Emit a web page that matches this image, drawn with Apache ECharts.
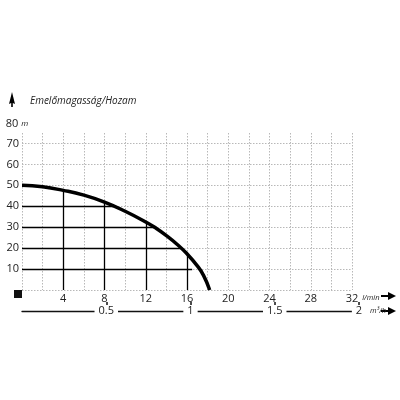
<!DOCTYPE html>
<html><head><meta charset="utf-8">
<script src="https://cdn.jsdelivr.net/npm/echarts@6/dist/echarts.min.js"></script>
<style>html,body{margin:0;padding:0;background:#fff}#c{width:400px;height:400px}</style>
</head><body><div id="c"></div>
<script>
// Data
const flowLmin = [0, 2, 4, 6, 8, 10, 12, 13, 14, 15, 16, 17, 17.6, 18.2];
const headM    = [50, 49.3, 47.6, 45.3, 42, 37.6, 32.5, 29.5, 26, 22, 17.3, 11.5, 7, 0];
const dropX    = [4, 8, 12, 16];          // vertical reference lines (l/min)
const dropXTop = [47.6, 42, 32.5, 17.3];  // where they meet the curve (m)
const dropY    = [40, 30, 20, 10];        // horizontal reference lines (m)
const dropYEnd = [8.9, 12.8, 15.4, 16.5]; // where they end (l/min)
const m3hTicks = [0.5, 1, 1.5, 2];
const titleText = 'Emelőmagasság/Hozam';

const curve = flowLmin.map((x, i) => [x, headM[i]]);
const ml = [];
dropX.forEach((x, i) => ml.push([{coord: [x, 0]}, {coord: [x, dropXTop[i]]}]));
dropY.forEach((y, i) => ml.push([{coord: [0, y]}, {coord: [dropYEnd[i], y]}]));

const font = 'Open Sans';
const chart = echarts.init(document.getElementById('c'));
chart.setOption({
  animation: false,
  textStyle: {fontFamily: font},
  title: {text: titleText, left: 25, top: 91,
    textStyle: {fontSize: 10, fontStyle: 'italic', fontWeight: 'normal', color: '#222', fontFamily: font}},
  grid: [
    {left: 22, right: 48, top: 133, bottom: 110},
    {left: 22, right: 41, top: 301, height: 10}
  ],
  xAxis: [
    {type: 'value', gridIndex: 0, min: 0, max: 32, interval: 2,
     axisLine: {show: false}, axisTick: {show: false},
     splitLine: {show: true, lineStyle: {color: '#b8b8b8', type: [1.5, 1.5], width: 1}},
     axisLabel: {margin: 3, fontSize: 11, color: '#222',
       formatter: v => (v > 0 && v % 4 === 0) ? String(v) : ''},
     name: 'l/min', nameLocation: 'end', nameGap: 7,
     nameTextStyle: {fontSize: 7.5, fontStyle: 'italic', color: '#222', verticalAlign: 'top', padding: [4, 0, 0, 0]}},
    {type: 'value', gridIndex: 1, min: 0, max: 2, interval: 0.5,
     position: 'bottom',
     axisLine: {show: true, lineStyle: {color: '#111', width: 1.3}},
     axisTick: {show: true, inside: true, length: 9, customValues: m3hTicks, lineStyle: {color: '#111', width: 1.5}},
     splitLine: {show: false},
     axisLabel: {margin: -6, fontSize: 11, color: '#222', backgroundColor: '#fff', padding: [0, 4, 0, 4],
       customValues: m3hTicks,
       formatter: v => (m3hTicks.indexOf(v) >= 0) ? String(v) : ''},
     name: 'm³/h', nameLocation: 'end', nameGap: 5,
     nameTextStyle: {fontSize: 7.5, fontStyle: 'italic', color: '#222', verticalAlign: 'middle'}}
  ],
  yAxis: [
    {type: 'value', gridIndex: 0, min: 0, max: 75, interval: 10,
     axisLine: {show: false}, axisTick: {show: false},
     splitLine: {show: true, lineStyle: {
       color: ['#b8b8b8','#b8b8b8','#b8b8b8','#b8b8b8','#b8b8b8','#b8b8b8','#b8b8b8','#b8b8b8','rgba(0,0,0,0)'],
       type: [1.5, 1.5], width: 1}},
     axisLabel: {margin: 3, fontSize: 11, color: '#222',
       formatter: v => (v > 0 && v % 10 === 0) ? String(v) : ''},
     name: '{a|80} {b|m}{c|}', nameLocation: 'end', nameGap: 3,
     nameTextStyle: {align: 'center', verticalAlign: 'bottom',
       rich: {a: {fontSize: 11, color: '#222', fontFamily: font},
              b: {fontSize: 8, fontStyle: 'italic', color: '#222', fontFamily: font},
              c: {width: 10}}}},
    {type: 'value', gridIndex: 1, show: false, min: 0, max: 1}
  ],
  series: [
    {type: 'line', xAxisIndex: 0, yAxisIndex: 0, data: curve, smooth: 0.5,
     symbol: 'none', lineStyle: {color: '#000', width: 3.5}, z: 5,
     markLine: {silent: true, symbol: ['none', 'none'], label: {show: false},
       lineStyle: {color: '#000', width: 1.3, type: 'solid'}, data: ml}}
  ],
  graphic: [
    {type: 'polygon', shape: {points: [[12, 92], [15, 104], [12.8, 103], [12.8, 107], [11.2, 107], [11.2, 103], [9, 104]]}, style: {fill: '#000'}},
    {type: 'rect', shape: {x: 14, y: 290, width: 8, height: 8}, style: {fill: '#111'}},
    {type: 'polygon', shape: {points: [[381, 295], [388, 295], [388, 292], [396, 296], [388, 300], [388, 297], [381, 297]]}, style: {fill: '#000'}},
    {type: 'polygon', shape: {points: [[381, 310], [388, 310], [388, 307], [396, 311], [388, 315], [388, 312], [381, 312]]}, style: {fill: '#000'}}
  ]
});
</script></body></html>
